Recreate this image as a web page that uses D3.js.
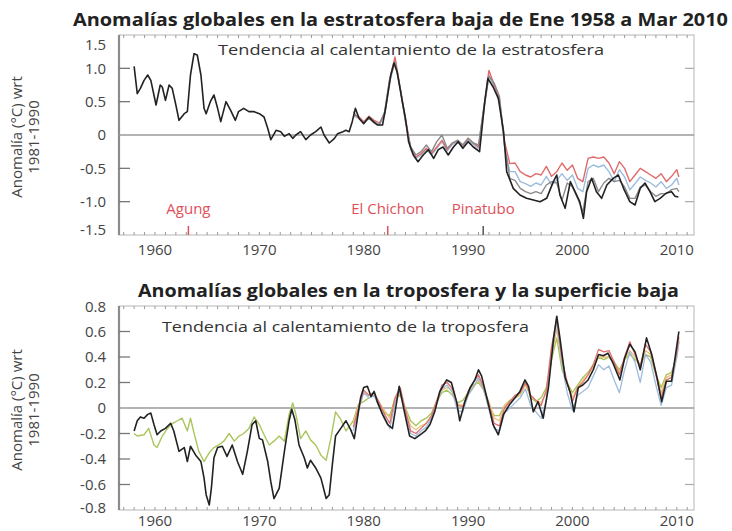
<!DOCTYPE html>
<html><head><meta charset="utf-8">
<script src="https://cdn.jsdelivr.net/npm/d3@7"></script>
<style>body{margin:0;background:#fff} svg text{font-family:"Open Sans",sans-serif}</style>
</head><body><svg id="c" width="732" height="531"></svg>
<script>
// ---------- DATA ----------
const xTickYears = [1960, 1970, 1980, 1990, 2000, 2010];
const stratTicks = [1.5, 1.0, 0.5, 0, -0.5, -1.0, -1.5];
const stratTickLabels = ["1.5", "1.0", "0.5", "0", "-0.5", "-1.0", "-1.5"];
const tropTicks = [0.8, 0.6, 0.4, 0.2, 0, -0.2, -0.4, -0.6, -0.8];
const tropTickLabels = ["0.8", "0.6", "0.4", "0.2", "0", "-0.2", "-0.4", "-0.6", "-0.8"];

const volcanoNames = ["Agung", "El Chichon", "Pinatubo"];
const volcanoYears = [1963.2, 1982.3, 1991.45];

// Stratosphere: radiosonde (black), 1958-2010
const stratBlackYears = [1958.0,1958.3,1958.6,1958.95,1959.3,1959.6,1960.1,1960.5,1960.7,1961.0,
 1961.35,1961.65,1962.0,1962.3,1962.8,1963.1,1963.4,1963.74,1964.05,1964.4,
 1964.7,1964.9,1965.3,1965.65,1966.0,1966.3,1966.8,1967.25,1967.7,1968.0,
 1968.5,1969.0,1969.5,1970.0,1970.45,1970.8,1971.1,1971.6,1972.05,1972.4,
 1972.85,1973.2,1973.5,1973.95,1974.45,1974.9,1975.4,1975.9,1976.2,1976.7,
 1977.2,1977.5,1978.0,1978.3,1978.6,1978.9,1979.2,1979.55,1980.0,1980.5,
 1980.8,1981.3,1981.8,1982.1,1982.6,1982.9,1983.2,1983.7,1984.0,1984.3,
 1984.75,1985.2,1985.7,1986.2,1986.7,1987.15,1987.6,1988.1,1988.6,1989.05,
 1989.5,1990.0,1990.5,1991.1,1991.6,1991.9,1992.4,1992.9,1993.4,1993.7,
 1994.33,1994.97,1995.6,1996.25,1996.9,1997.53,1998.17,1998.5,1998.8,1999.3,
 1999.8,2000.25,2000.7,2001.05,2001.36,2001.84,2002.3,2002.8,2003.3,2003.9,
 2004.4,2004.9,2005.5,2006.0,2006.5,2006.95,2007.43,2007.9,2008.4,2009.0,
 2009.5,2009.83,2010.15];
const stratBlack = [1.03,0.62,0.70,0.82,0.90,0.82,0.45,0.75,0.72,0.52,
 0.75,0.70,0.45,0.22,0.32,0.35,0.90,1.22,1.20,0.90,
 0.40,0.32,0.50,0.60,0.40,0.20,0.50,0.37,0.22,0.35,
 0.40,0.35,0.35,0.32,0.27,0.10,-0.07,0.07,0.05,-0.02,
 0.02,-0.05,0.00,0.05,-0.07,0.00,0.05,0.12,0.00,-0.12,
 -0.05,0.02,0.05,0.07,0.05,0.20,0.40,0.25,0.17,0.27,
 0.22,0.15,0.15,0.40,0.90,1.08,0.95,0.50,0.25,-0.10,
 -0.30,-0.40,-0.30,-0.22,-0.35,-0.22,-0.18,-0.30,-0.18,-0.10,
 -0.20,-0.10,-0.18,-0.25,0.50,0.85,0.72,0.55,0.05,-0.55,
 -0.80,-0.90,-0.95,-0.975,-1.00,-0.95,-0.70,-0.60,-0.90,-1.10,
 -0.70,-0.85,-1.00,-1.25,-0.85,-0.65,-0.85,-0.95,-0.75,-0.65,
 -0.60,-0.80,-1.00,-1.05,-0.80,-0.72,-0.85,-1.00,-0.95,-0.87,
 -0.85,-0.92,-0.93];

// Satellite-era years (half-year steps 1979-2010)
const satYears = [1979.0,1979.5,1980.0,1980.5,1981.0,1981.5,1982.0,1982.5,1983.0,1983.5,
 1984.0,1984.5,1985.0,1985.5,1986.0,1986.5,1987.0,1987.5,1988.0,1988.5,
 1989.0,1989.5,1990.0,1990.5,1991.0,1991.5,1992.0,1992.5,1993.0,1993.5,
 1994.0,1994.5,1995.0,1995.5,1996.0,1996.5,1997.0,1997.5,1998.0,1998.5,
 1999.0,1999.5,2000.0,2000.5,2001.0,2001.5,2002.0,2002.5,2003.0,2003.5,
 2004.0,2004.5,2005.0,2005.5,2006.0,2006.5,2007.0,2007.5,2008.0,2008.5,
 2009.0,2009.5,2010.0,2010.2];

const stratRed = [0.30,0.28,0.20,0.28,0.22,0.18,0.32,0.85,1.17,0.70,
 0.25,-0.20,-0.33,-0.28,-0.20,-0.28,-0.18,-0.08,-0.22,-0.12,
 -0.08,-0.15,-0.05,-0.12,-0.18,0.40,0.97,0.75,0.55,-0.10,
 -0.43,-0.42,-0.55,-0.60,-0.63,-0.58,-0.60,-0.47,-0.62,-0.55,
 -0.42,-0.53,-0.45,-0.65,-0.70,-0.35,-0.33,-0.35,-0.33,-0.42,
 -0.58,-0.40,-0.50,-0.70,-0.60,-0.50,-0.55,-0.60,-0.65,-0.58,
 -0.70,-0.62,-0.52,-0.63];
const stratBlue = [0.28,0.26,0.18,0.26,0.20,0.16,0.30,0.80,1.10,0.68,
 0.22,-0.22,-0.35,-0.30,-0.22,-0.30,-0.20,-0.10,-0.24,-0.14,
 -0.10,-0.17,-0.08,-0.14,-0.20,0.35,0.90,0.72,0.50,-0.18,
 -0.55,-0.55,-0.70,-0.73,-0.77,-0.72,-0.75,-0.62,-0.75,-0.68,
 -0.58,-0.68,-0.60,-0.80,-0.85,-0.50,-0.45,-0.48,-0.45,-0.55,
 -0.70,-0.52,-0.63,-0.82,-0.73,-0.63,-0.68,-0.72,-0.78,-0.70,
 -0.80,-0.75,-0.65,-0.75];
const stratGray = [0.35,0.25,0.18,0.25,0.18,0.15,0.35,0.85,1.10,0.70,
 0.20,-0.18,-0.30,-0.25,-0.15,-0.25,-0.10,0.00,-0.20,-0.12,
 -0.08,-0.15,-0.05,-0.12,-0.15,0.40,0.88,0.78,0.58,-0.15,
 -0.65,-0.68,-0.80,-0.85,-0.88,-0.85,-0.88,-0.75,-0.70,-0.72,
 -0.98,-0.72,-0.78,-0.95,-1.15,-0.70,-0.65,-0.85,-0.72,-0.65,
 -0.70,-0.68,-0.78,-0.95,-0.95,-0.78,-0.75,-0.85,-0.92,-0.88,
 -0.88,-0.82,-0.80,-0.85];

// Troposphere: radiosonde (black), 1958-2010
const tropBlackYears = [1958.0,1958.3,1958.6,1958.95,1959.3,1959.6,1959.9,1960.2,1960.55,1961.0,
 1961.5,1961.8,1962.3,1962.8,1963.1,1963.4,1963.9,1964.4,1964.7,1964.9,
 1965.2,1965.4,1965.65,1966.0,1966.45,1966.9,1967.4,1967.9,1968.4,1968.85,
 1969.3,1969.65,1970.0,1970.3,1970.8,1971.1,1971.4,1971.9,1972.4,1972.85,
 1973.1,1973.4,1973.8,1974.3,1974.6,1974.9,1975.4,1975.9,1976.4,1976.7,
 1977.0,1977.3,1977.8,1978.3,1978.75,1979.1,1979.4,1979.7,1980.0,1980.35,
 1980.7,1981.0,1981.3,1981.8,1982.3,1982.75,1983.4,1983.95,1984.4,1984.9,
 1985.4,1985.9,1986.35,1986.8,1987.3,1987.95,1988.4,1988.9,1989.2,1989.7,
 1990.2,1990.65,1991.0,1991.3,1991.8,1992.4,1992.9,1993.4,1994.0,1994.5,
 1994.97,1995.45,1995.8,1996.25,1996.7,1997.2,1997.7,1998.2,1998.5,1998.8,
 1999.3,1999.8,2000.15,2000.56,2001.0,2001.5,2002.0,2002.5,2002.95,2003.4,
 2003.9,2004.55,2005.0,2005.5,2006.0,2006.5,2007.1,2007.6,2008.1,2008.55,
 2009.0,2009.5,2009.83,2010.2];
const tropBlack = [-0.18,-0.10,-0.07,-0.08,-0.05,-0.04,-0.13,-0.21,-0.18,-0.16,
 -0.12,-0.18,-0.34,-0.31,-0.42,-0.30,-0.37,-0.42,-0.55,-0.68,
 -0.76,-0.63,-0.39,-0.31,-0.30,-0.38,-0.29,-0.42,-0.52,-0.34,
 -0.13,-0.10,-0.24,-0.25,-0.42,-0.58,-0.71,-0.63,-0.34,-0.10,
 -0.01,-0.09,-0.29,-0.39,-0.47,-0.41,-0.47,-0.55,-0.71,-0.68,
 -0.44,-0.22,-0.16,-0.10,-0.17,-0.24,-0.08,0.08,0.16,0.17,
 0.09,0.13,0.05,-0.05,-0.13,-0.16,0.17,-0.05,-0.22,-0.24,
 -0.21,-0.18,-0.13,-0.03,0.13,0.22,0.20,0.05,-0.10,0.05,
 0.16,0.22,0.30,0.25,0.08,-0.13,-0.21,-0.05,0.03,0.08,
 0.13,0.22,0.17,-0.03,0.05,-0.08,0.16,0.55,0.72,0.55,
 0.24,0.12,-0.03,0.16,0.18,0.22,0.30,0.42,0.41,0.43,
 0.35,0.22,0.39,0.50,0.44,0.30,0.55,0.42,0.24,0.05,
 0.21,0.21,0.39,0.60];

// Surface (green), 1958-1978 part
const tropGreenEarlyYears = [1958.0,1958.3,1958.95,1959.4,1959.9,1960.2,1960.7,1961.2,1961.7,1962.15,
 1962.6,1963.1,1963.4,1963.75,1964.2,1964.7,1965.2,1965.65,1966.1,1966.6,
 1967.1,1967.6,1968.05,1968.5,1969.0,1969.5,1970.0,1970.45,1970.95,1971.4,
 1971.9,1972.4,1972.85,1973.2,1973.5,1973.95,1974.45,1974.9,1975.4,1975.9,
 1976.4,1976.85,1977.3,1977.8,1978.3,1978.75];
const tropGreenEarly = [-0.20,-0.22,-0.21,-0.16,-0.29,-0.31,-0.22,-0.16,-0.12,-0.10,
 -0.08,-0.18,-0.08,-0.20,-0.34,-0.42,-0.35,-0.31,-0.29,-0.26,
 -0.20,-0.26,-0.22,-0.20,-0.16,-0.07,-0.13,-0.21,-0.29,-0.26,
 -0.22,-0.26,-0.05,0.04,-0.05,-0.24,-0.18,-0.25,-0.29,-0.37,
 -0.41,-0.24,-0.03,-0.09,-0.18,-0.13];
// Satellite-era troposphere / surface series (on satYears)
const tropGreen = [-0.10,0.03,0.05,0.08,0.10,0.02,-0.04,-0.06,0.08,0.10,
 0.00,-0.10,-0.14,-0.10,-0.08,-0.04,0.05,0.12,0.14,0.10,
 0.04,0.06,0.12,0.18,0.20,0.14,0.02,-0.06,-0.06,0.02,
 0.06,0.08,0.12,0.20,0.08,0.05,0.08,0.16,0.38,0.55,
 0.30,0.20,0.12,0.18,0.24,0.28,0.34,0.40,0.38,0.40,
 0.36,0.30,0.38,0.42,0.38,0.34,0.42,0.40,0.26,0.16,
 0.26,0.28,0.40,0.52];
const tropRed = [-0.15,0.00,0.14,0.10,0.12,0.04,-0.05,-0.12,0.08,0.16,
 -0.02,-0.18,-0.20,-0.16,-0.12,-0.06,0.06,0.18,0.20,0.15,
 0.02,0.01,0.13,0.20,0.26,0.16,0.03,-0.12,-0.14,0.00,
 0.05,0.10,0.12,0.20,0.10,0.06,0.02,0.14,0.48,0.70,
 0.38,0.20,0.05,0.16,0.20,0.26,0.34,0.46,0.44,0.45,
 0.36,0.26,0.40,0.52,0.42,0.33,0.50,0.44,0.26,0.08,
 0.22,0.24,0.44,0.56];
const tropBlue = [-0.18,-0.02,0.12,0.08,0.10,0.00,-0.07,-0.16,0.04,0.14,
 -0.04,-0.20,-0.22,-0.18,-0.15,-0.08,0.04,0.15,0.18,0.12,
 -0.02,-0.03,0.10,0.16,0.24,0.14,-0.01,-0.16,-0.18,-0.04,
 0.00,0.04,0.08,0.15,0.02,-0.03,-0.08,0.06,0.42,0.68,
 0.34,0.12,-0.02,0.10,0.13,0.16,0.25,0.34,0.30,0.33,
 0.22,0.12,0.30,0.44,0.36,0.20,0.42,0.36,0.18,0.02,
 0.16,0.18,0.40,0.52];
const tropGold = [-0.12,0.02,0.12,0.10,0.12,0.04,-0.02,-0.08,0.05,0.12,
 -0.02,-0.14,-0.17,-0.14,-0.12,-0.06,0.04,0.14,0.16,0.14,
 0.03,0.02,0.10,0.16,0.22,0.15,0.05,-0.08,-0.10,0.02,
 0.05,0.08,0.10,0.18,0.10,0.06,0.04,0.12,0.40,0.62,
 0.35,0.20,0.08,0.16,0.22,0.26,0.32,0.40,0.40,0.40,
 0.35,0.28,0.38,0.45,0.40,0.32,0.45,0.42,0.28,0.12,
 0.24,0.26,0.42,0.54];

// ---------- CHART ----------
const svg = d3.select("#c");
const x = d3.scaleLinear().domain([1956.55, 2011.65]).range([119, 694]);
const yS = d3.scaleLinear().domain([-1.5, 1.5]).range([235, 35]);
const yT = d3.scaleLinear().domain([-0.8, 0.8]).range([510, 306]);

const zip = (xs, ys) => xs.map((v, i) => [v, ys[i]]);

function panel(o) {
  const y = o.y;
  const g = svg.append("g");
  const [y0, y1] = y.range(); // bottom, top
  const L = x.range()[0], R = x.range()[1];
  g.append("rect").attr("x", L).attr("y", y1).attr("width", R - L).attr("height", y0 - y1)
    .attr("fill", "none").attr("stroke", "#b5b5b5").attr("stroke-width", 1);
  g.append("line").attr("x1", L).attr("x2", L).attr("y1", y1).attr("y2", y0)
    .attr("stroke", "#8c8c8c").attr("stroke-width", 2.2);
  const yrs = d3.range(1957, 2012);
  g.selectAll(null).data(yrs).join("line")
    .attr("x1", d => x(d)).attr("x2", d => x(d)).attr("y1", y0).attr("y2", y0 - 3)
    .attr("stroke", "#999").attr("stroke-width", 1);
  g.selectAll(null).data(yrs).join("line")
    .attr("x1", d => x(d)).attr("x2", d => x(d)).attr("y1", y1).attr("y2", y1 + 3)
    .attr("stroke", "#999").attr("stroke-width", 1);
  const inner = o.ticks.filter(t => t !== 0 && t !== y.domain()[0] && t !== y.domain()[1]);
  g.selectAll(null).data(inner).join("line")
    .attr("x1", L).attr("x2", L + 11).attr("y1", d => y(d)).attr("y2", d => y(d))
    .attr("stroke", "#777").attr("stroke-width", 1.3);
  g.selectAll(null).data(inner).join("line")
    .attr("x1", R).attr("x2", R - 9).attr("y1", d => y(d)).attr("y2", d => y(d))
    .attr("stroke", "#aaa").attr("stroke-width", 1.2);
  g.append("line").attr("x1", L).attr("x2", R).attr("y1", y(0)).attr("y2", y(0))
    .attr("stroke", "#9a9a9a").attr("stroke-width", 1.6);
  g.selectAll(null).data(o.ticks).join("text")
    .attr("x", 106).attr("y", d => Math.min(Math.max(y(d), y1 + o.padTop), y0 - o.padBot))
    .attr("dy", "0.36em").attr("text-anchor", "end")
    .attr("font-size", 15).attr("fill", "#444")
    .text((d, i) => o.labels[i]);
  g.selectAll(null).data(xTickYears).join("text")
    .attr("x", d => x(d)).attr("y", y0 + o.xLabOff).attr("text-anchor", "middle")
    .attr("font-size", 15).attr("fill", "#444").text(d => d);
  g.append("text").attr("x", o.titleX).attr("y", o.titleY).attr("font-size", 17).attr("font-weight", "bold")
    .attr("fill", "#222").attr("textLength", o.titleLen).attr("lengthAdjust", "spacingAndGlyphs").text(o.title);
  g.append("text").attr("x", o.noteX).attr("y", o.noteY).attr("font-size", 15)
    .attr("fill", "#333").attr("textLength", o.noteLen).attr("lengthAdjust", "spacingAndGlyphs").text(o.note);
  const cy = (y0 + y1) / 2 + 2;
  g.append("text").attr("transform", `translate(22,${cy}) rotate(-90)`).attr("text-anchor", "middle")
    .attr("font-size", 15).attr("fill", "#444").text("Anomalía (°C) wrt");
  g.append("text").attr("transform", `translate(39,${cy}) rotate(-90)`).attr("text-anchor", "middle")
    .attr("font-size", 15).attr("fill", "#444").text("1981-1990");
  const line = d3.line().x(d => x(d[0])).y(d => y(d[1]));
  o.series.forEach(s => {
    g.append("path").attr("d", line(s.pts)).attr("fill", "none")
      .attr("stroke", s.color).attr("stroke-width", s.w).attr("stroke-linejoin", "round");
  });
  return g;
}

const gTop = panel({
  y: yS, ticks: stratTicks, labels: stratTickLabels, padTop: 10, padBot: 5, xLabOff: 20,
  title: "Anomalías globales en la estratosfera baja de Ene 1958 a Mar 2010", titleY: 26, titleLen: 655, titleX: 73,
  note: "Tendencia al calentamiento de la estratosfera", noteX: 218, noteY: 55, noteLen: 386,
  series: [
    {pts: zip(satYears, stratBlue), color: "#9dbcdc", w: 1.4},
    {pts: zip(satYears, stratRed), color: "#e06a6a", w: 1.4},
    {pts: zip(satYears, stratGray), color: "#8a8a8a", w: 1.4},
    {pts: zip(stratBlackYears, stratBlack), color: "#222", w: 1.6}
  ]});

const volColors = ["#e0505a", "#e0505a", "#555"];
gTop.selectAll(null).data(volcanoYears).join("line")
  .attr("x1", d => x(d)).attr("x2", d => x(d)).attr("y1", yS(-1.5)).attr("y2", yS(-1.5) - 9)
  .attr("stroke", (d, i) => volColors[i]).attr("stroke-width", 1.5);
gTop.selectAll(null).data(volcanoYears).join("text")
  .attr("x", d => x(d)).attr("y", 214).attr("text-anchor", "middle")
  .attr("font-size", 15).attr("fill", "#e0505a").text((d, i) => volcanoNames[i]);

panel({
  y: yT, ticks: tropTicks, labels: tropTickLabels, padTop: 1, padBot: 2, xLabOff: 16,
  title: "Anomalías globales en la troposfera y la superficie baja", titleY: 297, titleLen: 541, titleX: 138,
  note: "Tendencia al calentamiento de la troposfera", noteX: 162, noteY: 332, noteLen: 367,
  series: [
    {pts: zip(tropGreenEarlyYears, tropGreenEarly).concat(zip(satYears, tropGreen)), color: "#a9c65c", w: 1.4},
    {pts: zip(satYears, tropGold), color: "#e8c27a", w: 1.3},
    {pts: zip(satYears, tropBlue), color: "#9dbcdc", w: 1.3},
    {pts: zip(satYears, tropRed), color: "#e07070", w: 1.3},
    {pts: zip(tropBlackYears, tropBlack), color: "#222", w: 1.6}
  ]});
</script></body></html>
